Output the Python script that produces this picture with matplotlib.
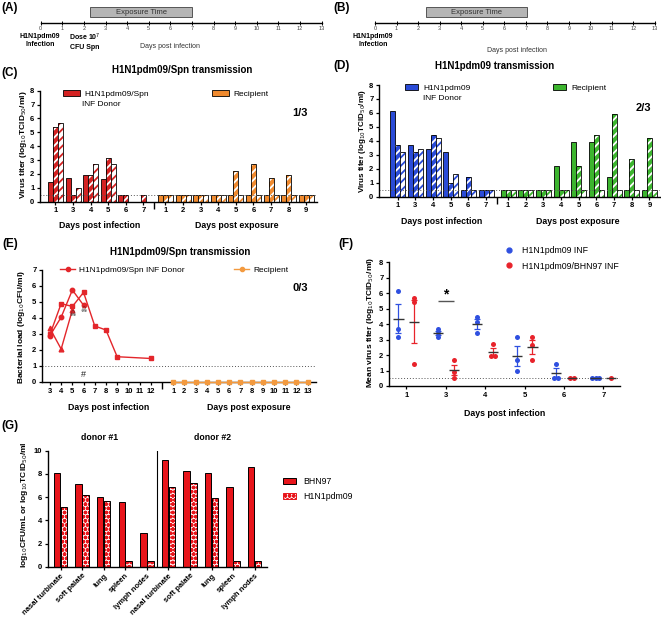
import numpy as np
import matplotlib
matplotlib.use('Agg')
import matplotlib.pyplot as plt
from matplotlib.patches import Patch
from matplotlib.lines import Line2D

plt.rcParams['font.family'] = ['Liberation Sans', 'DejaVu Sans']
plt.rcParams['hatch.linewidth'] = 1.3

# ---------------- data ----------------
timeline_days = list(range(14))
exposure_A = [2.3, 7.0]
exposure_B = [2.35, 7.05]

# Panel C (H1N1pdm09/Spn transmission), three animals per day
C_donor_days = [1, 3, 4, 5, 6, 7]
C_donor_a1 = [1.44, 1.68, 1.92, 1.65, 0.48, np.nan]
C_donor_a2 = [5.40, 0.48, 1.92, 3.17, 0.48, 0.48]
C_donor_a3 = [5.64, 0.96, 2.69, 2.69, np.nan, np.nan]
C_recip_days = [1, 2, 3, 4, 5, 6, 7, 8, 9]
C_recip_a1 = [0.5, 0.5, 0.5, 0.5, 0.5, 0.5, 0.5, 0.5, 0.5]
C_recip_a2 = [0.5, 0.5, 0.5, 0.5, 2.2, 2.7, 1.7, 1.9, 0.5]
C_recip_a3 = [0.5, 0.5, 0.5, 0.5, 0.5, 0.5, 0.5, 0.5, 0.5]

# Panel D (H1N1pdm09 transmission)
D_donor_days = [1, 3, 4, 5, 6, 7]
D_donor_a1 = [6.16, 3.68, 3.44, 3.17, 0.5, 0.5]
D_donor_a2 = [3.68, 3.17, 4.44, 1.00, 1.43, 0.5]
D_donor_a3 = [3.17, 3.44, 4.18, 1.65, 0.5, 0.5]
D_recip_days = [1, 2, 3, 4, 5, 6, 7, 8, 9]
D_recip_a1 = [0.5, 0.5, 0.5, 2.2, 3.91, 3.91, 1.43, 0.5, 0.5]
D_recip_a2 = [0.5, 0.5, 0.5, 0.5, 2.2, 4.41, 5.9, 2.67, 4.18]
D_recip_a3 = [0.5, 0.5, 0.5, 0.5, 0.5, 0.5, 0.5, 0.5, 0.5]

# Panel E (bacterial load)
E_donor_ticks = [3, 4, 5, 6, 7, 8, 9, 10, 11, 12]
E_a1_days = [3, 4, 5, 6]
E_a1_vals = [2.9, 4.05, 5.75, 4.8]
E_a2_days = [3, 4, 5, 6, 7, 8, 9, 12]
E_a2_vals = [2.97, 4.9, 4.72, 5.6, 3.5, 3.25, 1.58, 1.47]
E_a3_days = [3, 4, 5]
E_a3_vals = [3.35, 2.06, 4.5]
E_death_days = [5, 6]
E_death_vals = [4.2, 4.45]
E_recip_days = [1, 2, 3, 4, 5, 6, 7, 8, 9, 10, 11, 12, 13]
E_recip_vals = [0, 0, 0, 0, 0, 0, 0, 0, 0, 0, 0, 0, 0]

# Panel F (mean virus titer)
F_days = [1, 3, 4, 5, 6, 7]
F_h1n1 = [[6.17, 3.69, 3.19], [3.69, 3.45, 3.2], [4.44, 4.17, 3.41],
          [3.19, 1.68, 0.99], [1.45, 0.5, 0.5], [0.5, 0.5, 0.5]]
F_bhn = [[5.67, 5.41, 1.42], [1.68, 0.93, 0.5], [2.7, 1.96, 1.96],
         [3.19, 2.65, 1.68], [0.5, 0.5], [0.5]]

# Panel G (organ titers)
G_tissues = ['nasal turbinate', 'soft palate', 'lung', 'spleen', 'lymph nodes',
             'nasal turbinate', 'soft palate', 'lung', 'spleen', 'lymph nodes']
G_bhn97 = [8.1, 7.1, 5.98, 5.6, 2.88, 9.2, 8.25, 8.05, 6.9, 8.62]
G_h1n1 = [5.17, 6.15, 5.66, 0.5, 0.5, 6.9, 7.19, 5.9, 0.5, 0.5]

# ---------------- figure ----------------
W, H = 661, 624
fig = plt.figure(figsize=(W / 100, H / 100), dpi=100)
fig.patch.set_facecolor('white')


def add_ax(L, T, R, B):
    return fig.add_axes([L / W, 1 - B / H, (R - L) / W, (B - T) / H])


def ftext(x, y, s, **kw):
    kw.setdefault('ha', 'center')
    kw.setdefault('va', 'center')
    fig.text(x / W, 1 - y / H, s, **kw)


def fpos(x, y):
    return (x / W, 1 - y / H)


def style_axes(ax, lw=1.0):
    for s in ['right', 'top']:
        ax.spines[s].set_visible(False)
    for s in ['left', 'bottom']:
        ax.spines[s].set_linewidth(lw)
    ax.tick_params(length=2.5, width=0.9, labelsize=5.5, pad=1.5)
    for lab in ax.get_xticklabels() + ax.get_yticklabels():
        lab.set_fontweight('bold')


# panel letters
for lab, x, y in [('(A)', 10, 8), ('(B)', 342, 8), ('(C)', 10, 73), ('(D)', 342, 66),
                  ('(E)', 10, 244), ('(F)', 346, 244), ('(G)', 10, 426)]:
    ftext(x, y, lab, fontsize=8.5, fontweight='bold')


# ---------- timelines A / B ----------
def timeline(L, R, exposure):
    ax = add_ax(L, 5, R, 23.3)
    ax.set_xlim(0, 13)
    ax.set_ylim(0, 1)
    for s in ['left', 'right', 'top']:
        ax.spines[s].set_visible(False)
    ax.spines['bottom'].set_linewidth(1.0)
    ax.set_yticks([])
    ax.set_xticks(timeline_days)
    ax.tick_params(axis='x', length=3, width=0.7, labelsize=4, pad=0.8,
                   direction='inout', labelcolor='#444444')
    ax.axvspan(exposure[0], exposure[1], ymin=0.33, ymax=0.88,
               facecolor='#b5b5b5', edgecolor='#555555', linewidth=0.7)
    ax.text(np.mean(exposure), 0.6, 'Exposure Time', ha='center', va='center',
            fontsize=5.5, color='#333333')
    return ax


timeline(40.7, 321.7, exposure_A)
ftext(40, 40.5, 'H1N1pdm09\nInfection', fontsize=5, fontweight='bold', linespacing=1.4)
ftext(85, 41.5, 'Dose 10$^{7}$\nCFU Spn', fontsize=5, fontweight='bold', linespacing=1.3)
ftext(170, 47, 'Days post infection', fontsize=5, color='#333333')

timeline(375, 655, exposure_B)
ftext(373, 40.5, 'H1N1pdm09\nInfection', fontsize=5, fontweight='bold', linespacing=1.4)
ftext(517, 50, 'Days post infection', fontsize=5, color='#333333')


# ---------- bar panels C / D ----------
def bar_panel(box, xlim, donor_days, donor_sets, recip_days, recip_sets, c_d, c_r):
    ax = add_ax(*box)
    pd_ = np.arange(len(donor_days), dtype=float)
    pr_ = len(donor_days) - 1 + 1.25 + np.arange(len(recip_days))
    w = 0.284
    for pos, sets, col in [(pd_, donor_sets, c_d), (pr_, recip_sets, c_r)]:
        for k, vals in enumerate(sets):
            v = np.array(vals, float)
            x = pos + (k - 1) * w
            m = ~np.isnan(v)
            if k == 0:
                ax.bar(x[m], v[m], w, color=col, edgecolor='black', linewidth=0.6)
            elif k == 1:
                ax.bar(x[m], v[m], w, color=col, edgecolor='white', hatch='////', linewidth=0)
                ax.bar(x[m], v[m], w, fill=False, edgecolor='black', linewidth=0.6)
            else:
                ax.bar(x[m], v[m], w, color='white', edgecolor=col, hatch='////', linewidth=0)
                ax.bar(x[m], v[m], w, fill=False, edgecolor='black', linewidth=0.6)
    ax.axhline(0.5, ls=(0, (1, 2)), color='#555555', lw=0.7)
    ax.set_xlim(*xlim)
    ax.set_ylim(0, 8)
    ax.set_yticks(range(0, 9))
    ax.set_xticks(np.concatenate([pd_, pr_]))
    ax.set_xticklabels([str(d) for d in donor_days] + [str(d) for d in recip_days])
    ax.set_xticks([(pd_[-1] + pr_[0]) / 2], minor=True)
    ax.tick_params(axis='x', which='minor', length=5, width=1)
    style_axes(ax)
    return ax


axC = bar_panel((40, 90.7, 317, 201.7), (-0.88, 14.86), C_donor_days,
                [C_donor_a1, C_donor_a2, C_donor_a3], C_recip_days,
                [C_recip_a1, C_recip_a2, C_recip_a3], '#d42222', '#f08a2e')
ftext(182, 70, 'H1N1pdm09/Spn transmission', fontsize=7, fontweight='bold')
ftext(24, 145, 'Virus titer (log$_{10}$TCID$_{50}$/ml)', fontsize=6, fontweight='bold', rotation=90)
ftext(100, 226, 'Days post infection', fontsize=6.3, fontweight='bold')
ftext(237, 226, 'Days post exposure', fontsize=6.3, fontweight='bold')
ftext(300, 113, '1/3', fontsize=8, fontweight='bold')
lg1 = axC.legend([Patch(facecolor='#d42222', edgecolor='black', linewidth=0.6)], ['H1N1pdm09/Spn'],
                 loc='center left', bbox_to_anchor=fpos(63, 94), bbox_transform=fig.transFigure,
                 frameon=False, fontsize=6, handlelength=2.0, handleheight=0.8,
                 borderpad=0, borderaxespad=0, handletextpad=0.6)
axC.add_artist(lg1)
axC.legend([Patch(facecolor='#f08a2e', edgecolor='black', linewidth=0.6)], ['Recipient'],
           loc='center left', bbox_to_anchor=fpos(212, 94), bbox_transform=fig.transFigure,
           frameon=False, fontsize=6, handlelength=2.0, handleheight=0.8,
           borderpad=0, borderaxespad=0, handletextpad=0.6)
ftext(82, 104, 'INF Donor', fontsize=6, ha='left')

axD = bar_panel((379, 85, 660, 196.7), (-1.06, 14.85), D_donor_days,
                [D_donor_a1, D_donor_a2, D_donor_a3], D_recip_days,
                [D_recip_a1, D_recip_a2, D_recip_a3], '#2a4bd7', '#3cb52e')
ftext(495, 66, 'H1N1pdm09 transmission', fontsize=7, fontweight='bold')
ftext(362, 141, 'Virus titer (log$_{10}$TCID$_{50}$/ml)', fontsize=5.8, fontweight='bold', rotation=90)
ftext(442, 221, 'Days post infection', fontsize=6.3, fontweight='bold')
ftext(578, 221, 'Days post exposure', fontsize=6.3, fontweight='bold')
ftext(643, 108, '2/3', fontsize=8, fontweight='bold')
lg2 = axD.legend([Patch(facecolor='#2a4bd7', edgecolor='black', linewidth=0.6)], ['H1N1pdm09'],
                 loc='center left', bbox_to_anchor=fpos(405, 88), bbox_transform=fig.transFigure,
                 frameon=False, fontsize=6, handlelength=1.6, handleheight=0.8,
                 borderpad=0, borderaxespad=0, handletextpad=0.6)
axD.add_artist(lg2)
axD.legend([Patch(facecolor='#3cb52e', edgecolor='black', linewidth=0.6)], ['Recipient'],
           loc='center left', bbox_to_anchor=fpos(553, 88), bbox_transform=fig.transFigure,
           frameon=False, fontsize=6, handlelength=1.6, handleheight=0.8,
           borderpad=0, borderaxespad=0, handletextpad=0.6)
ftext(423, 99, 'INF Donor', fontsize=6, ha='left')

# ---------- panel E ----------
axE = add_ax(42, 270, 316, 382)
red_E = '#e3262b'
org_E = '#f39a3f'
axE.plot(E_a1_days, E_a1_vals, color=red_E, lw=1, marker='o', ms=3.2)
axE.plot(E_a2_days, E_a2_vals, color=red_E, lw=1, marker='s', ms=3.2)
axE.plot(E_a3_days, E_a3_vals, color=red_E, lw=1, marker='^', ms=3.4)
rec_x = np.array(E_recip_days) + 13
axE.plot(rec_x, E_recip_vals, color=org_E, lw=1, marker='s', ms=3.2, clip_on=False, zorder=5)
for d, v in zip(E_death_days, E_death_vals):
    axE.text(d, v, '\u2620', ha='center', va='center', fontsize=5, color='#222222')
axE.text(6, 0.45, '#', ha='center', va='center', fontsize=6.5, color='#222222')
axE.axhline(1, ls=(0, (1, 2)), color='#555555', lw=0.7)
axE.set_xlim(2.29, 26.75)
axE.set_ylim(0, 7)
axE.set_yticks(range(0, 8))
axE.set_xticks(list(E_donor_ticks) + list(rec_x))
axE.set_xticklabels([str(d) for d in E_donor_ticks] + [str(d) for d in E_recip_days])
axE.set_xticks([13], minor=True)
axE.tick_params(axis='x', which='minor', length=5, width=1)
style_axes(axE)
ftext(180, 252, 'H1N1pdm09/Spn transmission', fontsize=7, fontweight='bold')
ftext(22, 327, 'Bacterial load (log$_{10}$CFU/ml)', fontsize=6, fontweight='bold', rotation=90)
ftext(109, 407, 'Days post infection', fontsize=6.3, fontweight='bold')
ftext(249, 407, 'Days post exposure', fontsize=6.3, fontweight='bold')
ftext(300, 288, '0/3', fontsize=8, fontweight='bold')
lg3 = axE.legend([Line2D([], [], color=red_E, marker='o', ms=3, lw=1)], ['H1N1pdm09/Spn INF Donor'],
                 loc='center left', bbox_to_anchor=fpos(60, 270), bbox_transform=fig.transFigure,
                 frameon=False, fontsize=6, handlelength=1.8, borderpad=0, borderaxespad=0,
                 handletextpad=0.5)
axE.add_artist(lg3)
axE.legend([Line2D([], [], color=org_E, marker='o', ms=3, lw=1)], ['Recipient'],
           loc='center left', bbox_to_anchor=fpos(234, 270), bbox_transform=fig.transFigure,
           frameon=False, fontsize=6, handlelength=1.8, borderpad=0, borderaxespad=0,
           handletextpad=0.5)

# ---------- panel F ----------
axF = add_ax(389, 262.3, 620, 386)
blue_F = '#2f50e0'
red_F = '#e8232b'


def spread(vals, center, step=0.09):
    vals = np.asarray(vals, float)
    xs = np.full(len(vals), center, dtype=float)
    for u in np.unique(vals):
        idx = np.where(vals == u)[0]
        n = len(idx)
        if n > 1:
            xs[idx] = center + (np.arange(n) - (n - 1) / 2) * step
    return xs


for i, (hv, bv) in enumerate(zip(F_h1n1, F_bhn)):
    for vals, off, col in [(hv, -0.2, blue_F), (bv, 0.2, red_F)]:
        vals = np.asarray(vals, float)
        xc = i + off
        axF.scatter(spread(vals, xc), vals, s=13, color=col, zorder=4, linewidths=0)
        mean = vals.mean()
        sem = vals.std(ddof=1) / np.sqrt(len(vals)) if len(vals) > 1 else 0
        if sem > 0:
            axF.errorbar([xc], [mean], yerr=[sem], color=col, lw=0.9, capsize=2.2,
                         capthick=0.9, zorder=3)
        axF.hlines(mean, xc - 0.13, xc + 0.13, color='#333333', lw=1.0, zorder=5)
axF.axhline(0.5, ls=(0, (1, 2)), color='#555555', lw=0.7, zorder=1)
axF.hlines(5.52, 1 - 0.2, 1 + 0.2, color='#555555', lw=1.0)
axF.text(1, 5.95, '*', ha='center', va='center', fontsize=10, fontweight='bold')
axF.set_xlim(-0.44, 5.42)
axF.set_ylim(0, 8)
axF.set_yticks(range(0, 9))
axF.set_xticks(range(len(F_days)))
axF.set_xticklabels([str(d) for d in F_days])
style_axes(axF)
ftext(370, 322, 'Mean virus titer (log$_{10}$TCID$_{50}$/ml)', fontsize=6, fontweight='bold', rotation=90)
ftext(505, 413, 'Days post infection', fontsize=6.3, fontweight='bold')
axF.legend([Line2D([], [], color=blue_F, marker='o', ms=3.5, lw=0),
            Line2D([], [], color=red_F, marker='o', ms=3.5, lw=0)],
           ['H1N1pdm09 INF', 'H1N1pdm09/BHN97 INF'],
           loc='upper left', bbox_to_anchor=fpos(505, 246), bbox_transform=fig.transFigure,
           frameon=False, fontsize=6.3, handlelength=1.0, borderpad=0, borderaxespad=0,
           handletextpad=0.9, labelspacing=0.75)

# ---------- panel G ----------
axG = add_ax(48, 450.7, 267, 566.7)
red_G = '#e8151b'
xg = np.arange(len(G_tissues))
wg = 0.3
axG.bar(xg - wg / 2 - 0.01, G_bhn97, wg, color=red_G, edgecolor='black', linewidth=0.7)
axG.bar(xg + wg / 2 + 0.01, G_h1n1, wg, color='#fff2f2', edgecolor=red_G, hatch='oooo', linewidth=0)
axG.bar(xg + wg / 2 + 0.01, G_h1n1, wg, fill=False, edgecolor='black', linewidth=0.7)
axG.axvline(4.45, color='black', lw=0.8)
axG.set_xlim(-0.58, 9.57)
axG.set_ylim(0, 10)
axG.set_yticks(range(0, 11, 2))
axG.set_xticks(xg)
axG.set_xticklabels(G_tissues, rotation=45, ha='right', rotation_mode='anchor')
style_axes(axG)
for lab in axG.get_xticklabels():
    lab.set_fontsize(5.5)
ftext(100, 437, 'donor #1', fontsize=6.3, fontweight='bold')
ftext(213, 437, 'donor #2', fontsize=6.3, fontweight='bold')
ftext(25, 505, 'log$_{10}$CFU/mL or log$_{10}$TCID$_{50}$/ml', fontsize=6, fontweight='bold', rotation=90)
axG.legend([Patch(facecolor=red_G, edgecolor='black', linewidth=0.7),
            Patch(facecolor='#fff2f2', edgecolor=red_G, hatch='oooo', linewidth=0.7)],
           ['BHN97', 'H1N1pdm09'],
           loc='upper left', bbox_to_anchor=fpos(283, 477), bbox_transform=fig.transFigure,
           frameon=False, fontsize=6.3, handlelength=1.5, handleheight=0.8, borderpad=0,
           borderaxespad=0, handletextpad=0.8, labelspacing=0.7)

fig.savefig('out.png', dpi=100, facecolor='white')
